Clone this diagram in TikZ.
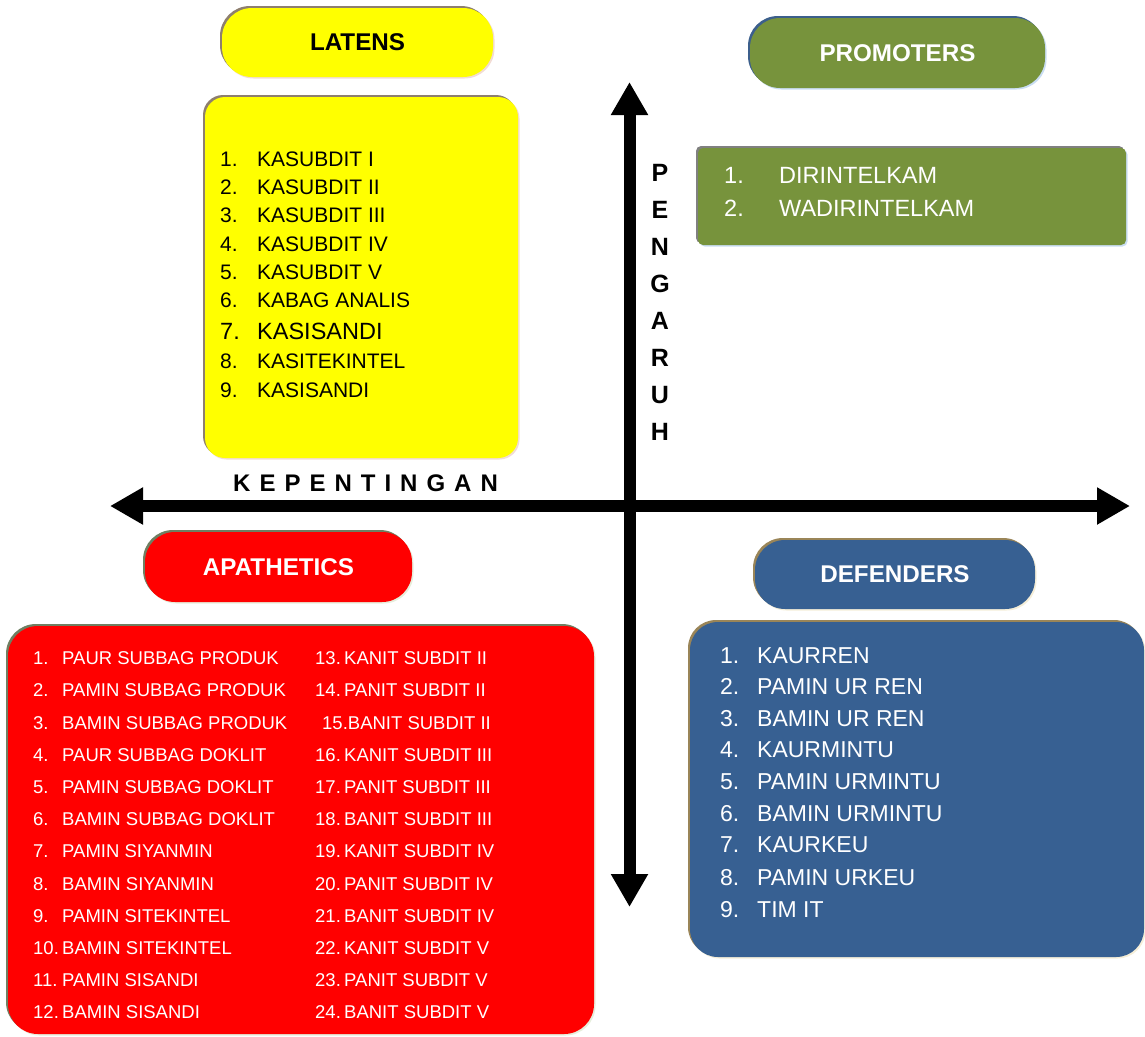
\documentclass[tikz,border=0pt]{standalone}
\usepackage{fontspec}
\setmainfont{Liberation Sans}
\usetikzlibrary{arrows.meta}

\definecolor{latyellow}{HTML}{FFFF00}
\definecolor{latrim}{HTML}{8E7F6E}
\definecolor{latglow}{HTML}{F2DCD4}
\definecolor{promgreen}{HTML}{77933C}
\definecolor{promrim}{HTML}{3C5F8C}
\definecolor{promglow}{HTML}{C9DDF2}
\definecolor{promboxrim}{HTML}{808080}
\definecolor{apared}{HTML}{FF0000}
\definecolor{aparim}{HTML}{6F7F62}
\definecolor{apaglow}{HTML}{E6EEDC}
\definecolor{defblue}{HTML}{376092}
\definecolor{defrim}{HTML}{9A8558}
\definecolor{defglow}{HTML}{F5EED8}

\newcommand\fsz[1]{\fontsize{#1}{#1}\selectfont}

\begin{document}
\begin{tikzpicture}[x=1pt,y=-1pt,
  % bevelled panel: dark rim up-left, light rim down-right
  rim/.style 2 args={
    preaction={fill=#2,transform canvas={shift={(1.5pt,-1.5pt)}}},
    preaction={fill=#1,transform canvas={shift={(-2pt,2pt)}}}},
  panel/.style={rectangle,inner sep=0pt,anchor=center},
  title/.style={font=\fsz{24.2}\bfseries},
  axis/.style={line width=12pt,
    {Triangle[length=33pt,width=35pt]}-{Triangle[length=33pt,width=35pt]}},
  item/.style={anchor=base west,inner sep=0pt},
  axislabel/.style={font=\fsz{24}\bfseries,inner sep=0pt}
]
\useasboundingbox (0,0) rectangle (1145,1036);

% ---------- axes ----------
\coordinate (xw) at (110,506);
\coordinate (xe) at (1130,506);
\coordinate (yn) at (629.5,82);
\coordinate (ys) at (629.5,907);
\draw[axis] (xw) -- (xe);
\draw[axis] (ys) -- (yn);

\node[axislabel,anchor=base west] (kep) at (233,491.5)
  {K\kern9pt E\kern9pt P\kern9pt E\kern9pt N\kern9pt T\kern9pt I\kern9pt N\kern9pt G\kern9pt A\kern9pt N};
\foreach \c [count=\k] in {P,E,N,G,A,R,U,H}
  \node[axislabel,anchor=center,font=\fsz{25}\bfseries] (pg\k) at (660,{173+(\k-1)*37}) {\c};

% ---------- LATENS ----------
\node[panel,rim={latrim}{latglow},fill=latyellow,rounded corners=30pt,
  minimum width=271pt,minimum height=69pt,title] (latens) at (357.5,42.5) {LATENS};
\node[panel,rim={latrim}{latglow},fill=latyellow,rounded corners=20pt,
  minimum width=313pt,minimum height=361pt] (latbox) at (361.5,277.5) {};
\foreach \t/\y/\s [count=\i] in {KASUBDIT I/166.5/21,KASUBDIT II/194.5/21,
    KASUBDIT III/222.5/21,KASUBDIT IV/251.5/21,KASUBDIT V/279.5/21,
    KABAG ANALIS/307.5/21,KASISANDI/339.5/23.5,KASITEKINTEL/368.5/21,
    KASISANDI/397.5/21}{
  \node[item,font=\fsz{\s}] (ln\i) at (220,\y) {\i.};
  \node[item,font=\fsz{\s}] (lt\i) at (257,\y) {\t};
}

% ---------- PROMOTERS ----------
\node[panel,rim={promrim}{promglow},fill=promgreen,rounded corners=30pt,
  minimum width=295pt,minimum height=70pt,title,text=white] (prom) at (897.5,53) {PROMOTERS};
\node[panel,rim={promboxrim}{promglow},fill=promgreen,rounded corners=5pt,
  minimum width=428pt,minimum height=97pt] (prombox) at (912,196.5) {};
\foreach \t/\y [count=\i] in {DIRINTELKAM/183.5,WADIRINTELKAM/216.5}{
  \node[item,font=\fsz{23.5},text=white] (pn\i) at (724,\y) {\i.};
  \node[item,font=\fsz{23.5},text=white] (pt\i) at (779,\y) {\t};
}

% ---------- APATHETICS ----------
\node[panel,rim={aparim}{apaglow},fill=apared,rounded corners=30pt,
  minimum width=267pt,minimum height=70pt,title,text=white] (apa) at (278.5,567) {APATHETICS};
\node[panel,rim={aparim}{apaglow},fill=apared,rounded corners=30pt,
  minimum width=586pt,minimum height=408pt] (apabox) at (301,830) {};
\foreach \t [count=\i] in {PAUR SUBBAG PRODUK,PAMIN SUBBAG PRODUK,BAMIN SUBBAG PRODUK,
    PAUR SUBBAG DOKLIT,PAMIN SUBBAG DOKLIT,BAMIN SUBBAG DOKLIT,PAMIN SIYANMIN,
    BAMIN SIYANMIN,PAMIN SITEKINTEL,BAMIN SITEKINTEL,PAMIN SISANDI,BAMIN SISANDI}{
  \node[item,font=\fsz{18.5},text=white] (an\i) at (33,{664.6+(\i-1)*32.2}) {\i.};
  \node[item,font=\fsz{18.5},text=white] (at\i) at (62,{664.6+(\i-1)*32.2}) {\t};
}
\foreach \n/\t/\r in {13/KANIT SUBDIT II/1,14/PANIT SUBDIT II/2,
    16/KANIT SUBDIT III/4,17/PANIT SUBDIT III/5,18/BANIT SUBDIT III/6,
    19/KANIT SUBDIT IV/7,20/PANIT SUBDIT IV/8,21/BANIT SUBDIT IV/9,
    22/KANIT SUBDIT V/10,23/PANIT SUBDIT V/11,24/BANIT SUBDIT V/12}{
  \node[item,font=\fsz{18.5},text=white] (bn\n) at (315,{664.6+(\r-1)*32.2}) {\n.};
  \node[item,font=\fsz{18.5},text=white] (bt\n) at (344,{664.6+(\r-1)*32.2}) {\t};
}
\node[item,font=\fsz{18.5},text=white] (bt15) at (322,729) {15.BANIT SUBDIT II};

% ---------- DEFENDERS ----------
\node[panel,rim={defrim}{defglow},fill=defblue,rounded corners=30pt,
  minimum width=280pt,minimum height=69pt,title,text=white] (def) at (895,574.5) {DEFENDERS};
\node[panel,rim={defrim}{defglow},fill=defblue,rounded corners=28pt,
  minimum width=454pt,minimum height=335pt] (defbox) at (917,789.5) {};
\foreach \t/\y [count=\i] in {KAURREN/663,PAMIN UR REN/694,BAMIN UR REN/726,
    KAURMINTU/757,PAMIN URMINTU/789,BAMIN URMINTU/821,KAURKEU/852,
    PAMIN URKEU/885,TIM IT/917}{
  \node[item,font=\fsz{23},text=white] (dn\i) at (720,\y) {\i.};
  \node[item,font=\fsz{23},text=white] (dt\i) at (757,\y) {\t};
}
\end{tikzpicture}
\end{document}
